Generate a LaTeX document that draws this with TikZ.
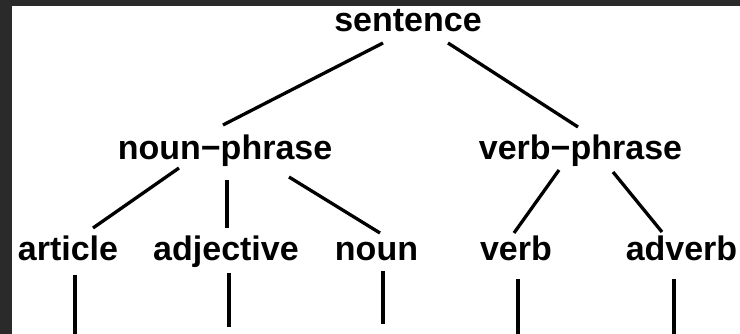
\documentclass[tikz,border=0pt]{standalone}
\usepackage{fontspec}
\setmainfont{Liberation Sans}
\usetikzlibrary{calc}
\definecolor{framegray}{HTML}{2A2A2A}
\tikzset{
  word/.style={anchor=base, inner sep=0pt, outer sep=0pt, font=\fontsize{34}{40}\selectfont\bfseries, text=black},
  branch/.style={draw=black, line width=3.3pt}
}
\begin{document}
\begin{tikzpicture}[x=1pt,y=-1pt]
\useasboundingbox (0,0) rectangle (740,334);
\fill[framegray] (0,0) rectangle (740,334);
\fill[white] (12,6) rectangle (740,334);
% nodes
\node[word] (s)    at (408,32)    {sentence};
\node[word] (np)   at (225,160)   {noun−phrase};
\node[word] (vp)   at (580.5,160) {verb−phrase};
\node[word] (art)  at (68,261)    {article};
\node[word] (adj)  at (226,261)   {adjective};
\node[word] (noun) at (376.5,261) {noun};
\node[word] (verb) at (516,261)   {verb};
\node[word] (adv)  at (681.5,261) {adverb};
% free ends of the lines leaving the picture
\coordinate (artEnd)  at (75,334);
\coordinate (adjEnd)  at (229,327);
\coordinate (nounEnd) at (383,324);
\coordinate (verbEnd) at (518,334);
\coordinate (advEnd)  at (674,334);
% branches
\draw[branch] ($(s.base)+(-25,11)$) -- ($(np.base)+(-2,-35)$);
\draw[branch] ($(s.base)+(40,11)$) -- ($(vp.base)+(-2.5,-33)$);
\draw[branch] ($(np.base)+(-46,8)$) -- ($(art.base)+(25,-33)$);
\draw[branch] ($(np.base)+(2,20)$) -- ($(adj.base)+(1,-33)$);
\draw[branch] ($(np.base)+(64,17)$) -- ($(noun.base)+(3.5,-28)$);
\draw[branch] ($(vp.base)+(-21.5,10)$) -- ($(verb.base)+(-2,-28)$);
\draw[branch] ($(vp.base)+(32.5,12)$) -- ($(adv.base)+(-19.5,-29)$);
% stems below the leaves
\draw[branch] ($(art.base)+(7,14)$) -- (artEnd);
\draw[branch] ($(adj.base)+(3,12)$) -- (adjEnd);
\draw[branch] ($(noun.base)+(6.5,10)$) -- (nounEnd);
\draw[branch] ($(verb.base)+(2,18)$) -- (verbEnd);
\draw[branch] ($(adv.base)+(-7.5,18)$) -- (advEnd);
\end{tikzpicture}
\end{document}
